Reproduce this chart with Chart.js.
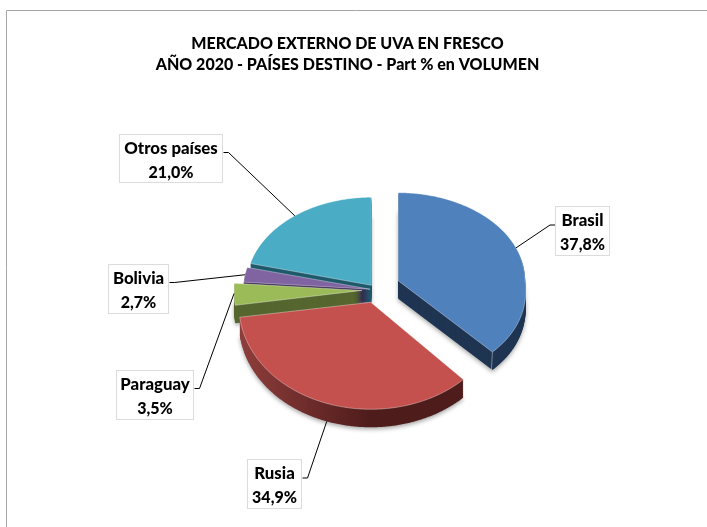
<!DOCTYPE html>
<html>
<head>
<meta charset="utf-8">
<title>Mercado externo de uva en fresco</title>
<script src="https://cdn.jsdelivr.net/npm/chart.js@4"></script>
<style>
  html, body { margin: 0; padding: 0; background: #fff; }
  canvas { display: block; }
</style>
</head>
<body>
<canvas id="uvaChart" width="707" height="527"></canvas>
<script>
        // Chart data
        const titleLines = ['MERCADO EXTERNO DE UVA EN FRESCO', 'AÑO 2020 - PAÍSES DESTINO - Part % en VOLUMEN'];
        const countries = ['Brasil', 'Rusia', 'Paraguay', 'Bolivia', 'Otros países'];
        const shares = [37.8, 34.9, 3.5, 2.7, 21.0];

        // Slice look
        const topColors = ['#4f81bd', '#c4514e', '#9bbb59', '#8064a2', '#4bacc6'];
        const sideColors = ['#1f3552', '#4e1c1b', '#56662f', '#38274f', '#1f5a6b'];
        const explode = [25, 13, 13, 5, 6];
        const drawOrder = [4, 3, 2, 1, 0];

        // Perspective of the 3D pie, per slice
        const widthScale = [0.977, 1.015, 0.985, 0.975, 0.96];
        const frontFlat = [0.76, 0.823, 0.823, 0.823, 0.823];
        const frontWiden = [0.1, 0.02, 0, 0, 0];

        // Label boxes: left, top, width, height
        const labelBoxes = [
            [555, 206, 55, 50],
            [247, 459, 55, 50],
            [116, 370, 78, 50],
            [108, 264, 61, 50],
            [119, 134, 104, 49]
        ];

        const shiftX = 27.5;   // pie sits right of the title centre
        const depth = 18;      // height of the 3D edge
        const backFlat = 0.677;

        function rimPoint(g, a) {
            const s = Math.sin(a);
            const wide = g.r * g.xs * (s > 0 ? 1 + g.widen * s : 1);
            return [g.cx + wide * Math.cos(a), g.cy + g.r * s * (s < 0 ? backFlat : g.front)];
        }

        function slicePath(ctx, g, dy) {
            ctx.beginPath();
            ctx.moveTo(g.cx, g.cy + dy);
            const steps = Math.ceil((g.end - g.start) / 0.01);
            for (let i = 0; i <= steps; i++) {
                const p = rimPoint(g, g.start + (g.end - g.start) * i / steps);
                ctx.lineTo(p[0], p[1] + dy);
            }
            ctx.closePath();
        }

        function sliceGeometry(arc, i) {
            const p = arc.getProps(['x', 'y', 'startAngle', 'endAngle', 'outerRadius'], true);
            const mid = (p.startAngle + p.endAngle) / 2;
            const off = arc.options.offset;
            return {
                cx: p.x + shiftX + Math.cos(mid) * off,
                cy: p.y + Math.sin(mid) * off,
                r: p.outerRadius,
                xs: widthScale[i],
                front: frontFlat[i],
                widen: frontWiden[i],
                start: p.startAngle,
                end: p.endAngle,
                mid: mid
            };
        }

        const pie3d = {
            id: 'pie3d',
            beforeDraw(chart) {
                // Outer frame
                const ctx = chart.ctx;
                ctx.save();
                ctx.strokeStyle = '#a6a6a6';
                ctx.lineWidth = 1;
                ctx.beginPath();
                ctx.moveTo(6.5, 527);
                ctx.lineTo(6.5, 10.5);
                ctx.lineTo(707, 10.5);
                ctx.stroke();
                ctx.restore();
            },
            beforeDatasetDraw(chart) {
                const ctx = chart.ctx;
                const arcs = chart.getDatasetMeta(0).data;

                drawOrder.forEach(i => {
                    const g = sliceGeometry(arcs[i], i);
                    let side = sideColors[i];
                    if (i === 1) {
                        // Rusia edge gets lighter towards the left
                        side = ctx.createLinearGradient(g.cx - g.r, 0, g.cx, 0);
                        side.addColorStop(0, '#8e3d3b');
                        side.addColorStop(1, sideColors[i]);
                    }
                    ctx.save();
                    ctx.shadowColor = 'rgba(0,0,0,0.35)';
                    ctx.shadowBlur = 4;
                    ctx.shadowOffsetY = 2;
                    ctx.fillStyle = side;
                    slicePath(ctx, g, depth);
                    ctx.fill();
                    ctx.restore();

                    ctx.fillStyle = side;
                    for (let d = depth - 1; d > 0; d--) {
                        slicePath(ctx, g, d);
                        ctx.fill();
                    }

                    ctx.fillStyle = topColors[i];
                    slicePath(ctx, g, 0);
                    ctx.fill();
                    ctx.strokeStyle = 'rgba(255,255,255,0.45)';
                    ctx.lineWidth = 0.8;
                    ctx.stroke();

                    if (i === 0) {
                        // Light seam at the front corner of Brasil
                        const c = rimPoint(g, g.end);
                        ctx.beginPath();
                        ctx.moveTo(c[0], c[1]);
                        ctx.lineTo(c[0] - 1, c[1] + depth);
                        ctx.strokeStyle = 'rgba(255,255,255,0.5)';
                        ctx.stroke();
                    }
                });

                return false; // slices are painted above, skip the flat ones
            },
            afterDatasetsDraw(chart) {
                const ctx = chart.ctx;
                const arcs = chart.getDatasetMeta(0).data;

                countries.forEach((name, i) => {
                    const g = sliceGeometry(arcs[i], i);
                    const box = labelBoxes[i];
                    const end = rimPoint(g, g.mid);
                    if (i === 1) end[1] += depth; // leader meets the Rusia edge

                    // Leader line with its short elbow
                    const onLeft = box[0] + box[2] / 2 < end[0];
                    const startX = onLeft ? box[0] + box[2] + 0.5 : box[0];
                    const elbowX = startX + (onLeft ? 5 : -5);
                    const midY = box[1] + (i < 2 ? 19 : 18.5);
                    ctx.strokeStyle = '#000';
                    ctx.lineWidth = 1;
                    ctx.beginPath();
                    ctx.moveTo(startX, midY);
                    ctx.lineTo(elbowX, midY);
                    ctx.lineTo(end[0], end[1]);
                    ctx.stroke();

                    // Label box
                    ctx.fillStyle = '#fff';
                    ctx.fillRect(box[0], box[1], box[2], box[3]);
                    ctx.strokeStyle = '#dcdcdc';
                    ctx.strokeRect(box[0] + 0.5, box[1] + 0.5, box[2] - 1, box[3] - 1);

                    ctx.fillStyle = '#000';
                    ctx.textAlign = 'center';
                    ctx.textBaseline = 'middle';
                    const tx = box[0] + box[2] / 2;
                    ctx.font = '900 16.8px Lato';
                    ctx.fillText(name, tx, box[1] + 14.5);
                    ctx.font = '900 16px Lato';
                    ctx.fillText(shares[i].toFixed(1).replace('.', ',') + '%', tx, box[1] + 38.5);
                });
            }
        };

        const ctx = document.getElementById('uvaChart').getContext('2d');
        new Chart(ctx, {
            type: 'pie',
            data: {
                labels: countries,
                datasets: [{
                    data: shares,
                    backgroundColor: topColors,
                    offset: explode,
                    borderWidth: 0
                }]
            },
            options: {
                responsive: false,
                animation: false,
                events: [],
                layout: {
                    padding: { left: 0, right: 12, top: 0, bottom: 94.5 }
                },
                plugins: {
                    legend: { display: false },
                    tooltip: { enabled: false },
                    title: {
                        display: true,
                        text: titleLines,
                        color: '#000',
                        font: { family: 'Lato', size: 16, weight: '900', lineHeight: 1.32 },
                        padding: { top: 33.5, bottom: 71.8 }
                    }
                }
            },
            plugins: [pie3d]
        });
</script>
</body>
</html>
